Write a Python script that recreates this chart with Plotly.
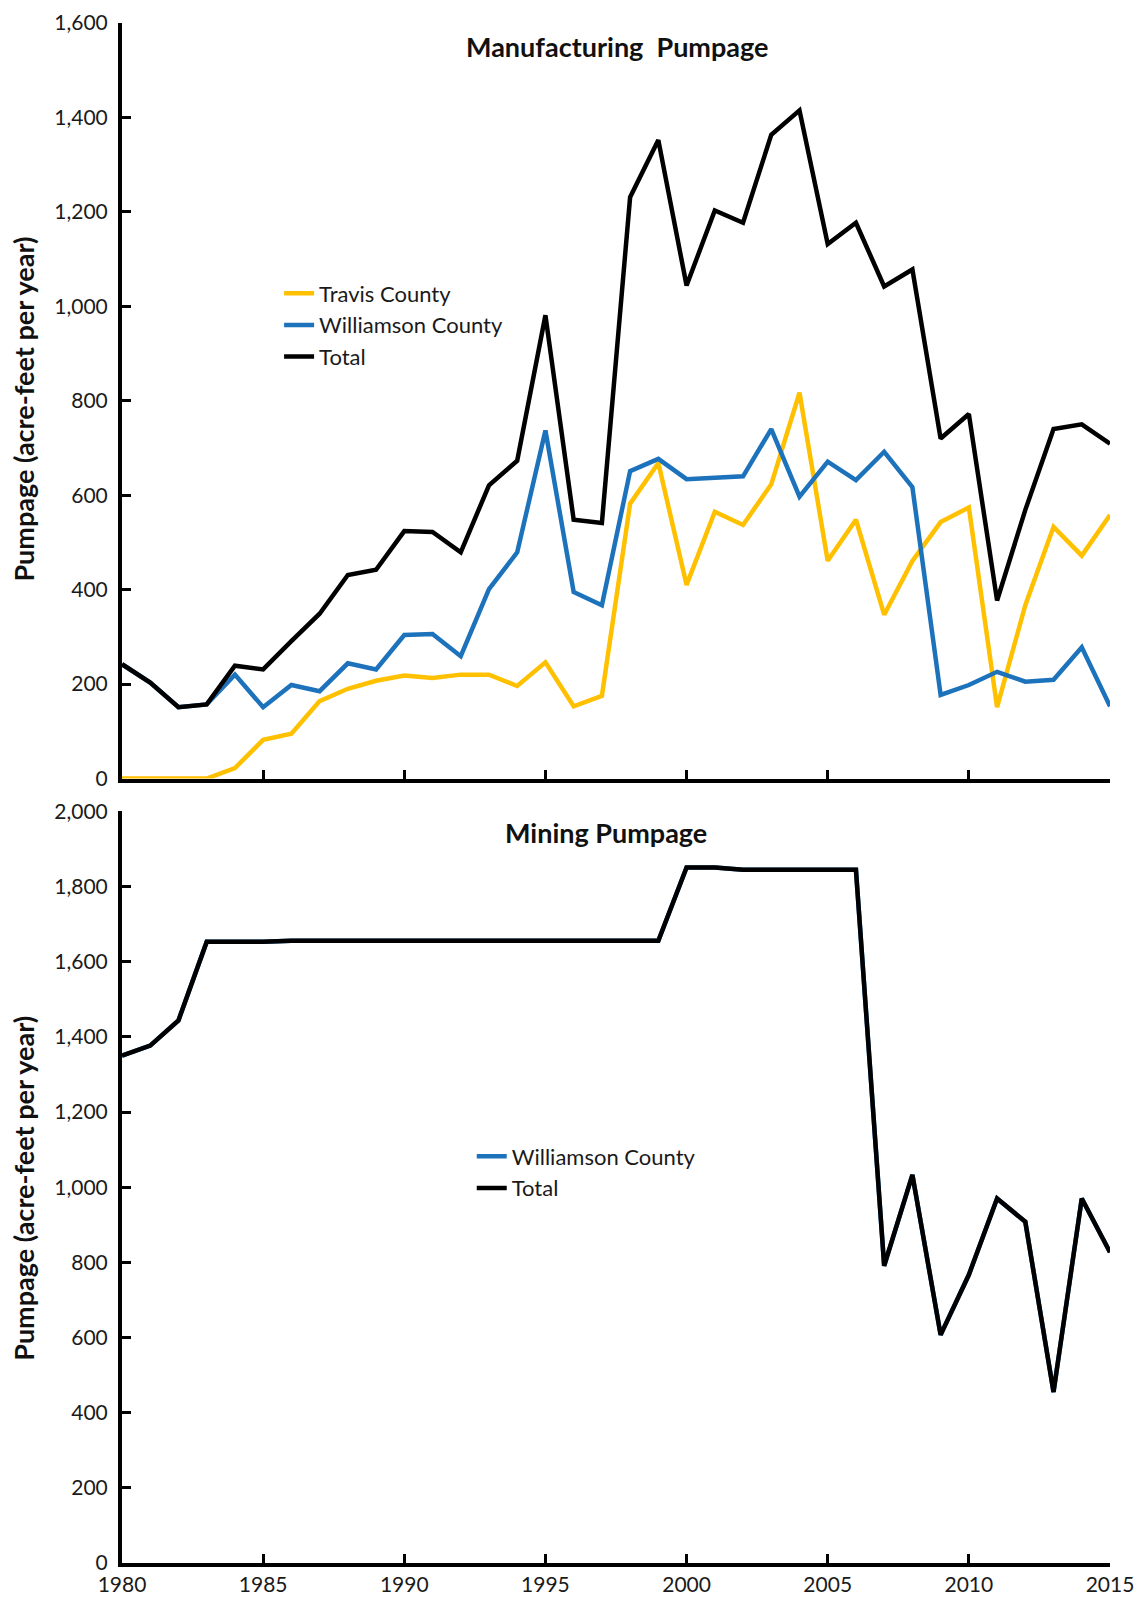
import plotly.graph_objects as go

years = list(range(1980, 2016))

mfg_travis = [0, 0, 0, 0, 22, 82, 95, 164, 190, 207, 218, 213, 220, 220, 196, 246,
              153, 175, 582, 668, 410, 565, 537, 623, 817, 461, 548, 347, 461, 543,
              574, 151, 367, 533, 472, 558]
mfg_williamson = [242, 203, 151, 157, 220, 151, 198, 185, 244, 231, 304, 306, 259, 401,
                  479, 737, 395, 367, 651, 677, 634, 636, 640, 740, 597, 671, 632, 692,
                  617, 177, 198, 226, 205, 209, 278, 153]
mfg_total = [242, 203, 151, 157, 239, 231, 291, 349, 431, 442, 524, 522, 479, 621, 673,
             981, 548, 541, 1231, 1352, 1044, 1203, 1177, 1363, 1415, 1132, 1177, 1042,
             1078, 720, 772, 377, 569, 740, 750, 709]

min_williamson = [1350, 1377, 1444, 1653, 1653, 1653, 1656, 1656, 1656, 1656, 1656, 1656,
                  1656, 1656, 1656, 1656, 1656, 1656, 1656, 1656, 1851, 1851, 1845, 1845,
                  1845, 1845, 1845, 791, 1033, 607, 767, 970, 908, 455, 970, 827]
min_total = list(min_williamson)

x_ticks = [1980, 1985, 1990, 1995, 2000, 2005, 2010, 2015]

YELLOW = "#FFC000"
BLUE = "#1C72BB"
BLACK = "#000000"
FONT = "Lato"

fig = go.Figure()
fig.add_trace(go.Scatter(x=years, y=mfg_travis, mode="lines", name="Travis County",
                         line=dict(color=YELLOW, width=4.5), xaxis="x", yaxis="y", legend="legend"))
fig.add_trace(go.Scatter(x=years, y=mfg_williamson, mode="lines", name="Williamson County",
                         line=dict(color=BLUE, width=4.5), xaxis="x", yaxis="y", legend="legend"))
fig.add_trace(go.Scatter(x=years, y=mfg_total, mode="lines", name="Total",
                         line=dict(color=BLACK, width=4.5), xaxis="x", yaxis="y", legend="legend"))
fig.add_trace(go.Scatter(x=years, y=min_williamson, mode="lines", name="Williamson County",
                         line=dict(color=BLUE, width=4.5), xaxis="x2", yaxis="y2", legend="legend2"))
fig.add_trace(go.Scatter(x=years, y=min_total, mode="lines", name="Total",
                         line=dict(color=BLACK, width=4.5), xaxis="x2", yaxis="y2", legend="legend2"))

axis_common = dict(showline=True, linecolor="black", linewidth=4, showgrid=False,
                   zeroline=False, ticks="inside", ticklen=9, tickwidth=3, tickcolor="black",
                   automargin=False, ticklabeloverflow="allow",
                   tickfont=dict(family=FONT, size=21, color="#1a1a1a"))

top_dom = [0.5094, 1.0]
bot_dom = [0.0, 0.488]

fig.update_layout(
    width=1148, height=1598,
    margin=dict(l=114, r=46, t=15, b=43),
    plot_bgcolor="white", paper_bgcolor="white",
    font=dict(family=FONT, color="#1a1a1a"),
    xaxis=dict(domain=[0, 1], anchor="y", range=[1980, 2015], tickvals=x_ticks,
               showticklabels=False, **axis_common),
    yaxis=dict(domain=top_dom, anchor="x", range=[0, 1600], dtick=200, tickformat=",",
               ticklabelstandoff=6, **axis_common),
    xaxis2=dict(domain=[0, 1], anchor="y2", range=[1980, 2015], tickvals=x_ticks,
                ticklabelstandoff=0, **axis_common),
    yaxis2=dict(domain=bot_dom, anchor="x2", range=[0, 2000], dtick=200, tickformat=",",
                ticklabelstandoff=6, **axis_common),
    legend=dict(x=0.159, y=0.838, xanchor="left", yanchor="top", bgcolor="rgba(0,0,0,0)",
                font=dict(family=FONT, size=22, color="#1a1a1a"), tracegroupgap=0,
                itemwidth=30),
    legend2=dict(x=0.354, y=0.2776, xanchor="left", yanchor="top", bgcolor="rgba(0,0,0,0)",
                 font=dict(family=FONT, size=22, color="#1a1a1a"), tracegroupgap=0,
                 itemwidth=30),
    annotations=[
        dict(text="<b>Manufacturing  Pumpage</b>", x=(617 - 122) / 988, y=0.985,
             xref="paper", yref="paper", showarrow=False, xanchor="center", yanchor="middle",
             font=dict(family=FONT, size=27, color="#111")),
        dict(text="<b>Mining Pumpage</b>", x=(606 - 122) / 988, y=0.4745,
             xref="paper", yref="paper", showarrow=False, xanchor="center", yanchor="middle",
             font=dict(family=FONT, size=27, color="#111")),
        dict(text="<b>Pumpage (acre-feet per year)</b>", x=(24 - 122) / 988,
             y=0.749, xref="paper", yref="paper", showarrow=False,
             xanchor="center", yanchor="middle",
             textangle=-90, font=dict(family=FONT, size=27, color="#111")),
        dict(text="<b>Pumpage (acre-feet per year)</b>", x=(24 - 122) / 988,
             y=0.243, xref="paper", yref="paper", showarrow=False,
             xanchor="center", yanchor="middle",
             textangle=-90, font=dict(family=FONT, size=27, color="#111")),
    ],
)

fig.write_html("out.html")
